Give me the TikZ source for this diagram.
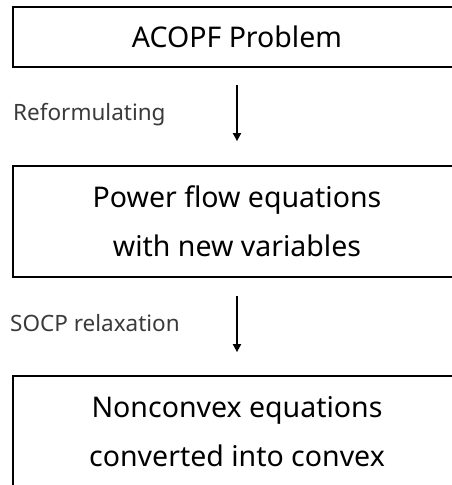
\documentclass[tikz,border=0pt]{standalone}
\usepackage{fontspec}
\setmainfont{Noto Sans}
\usetikzlibrary{arrows.meta}
\definecolor{labelgray}{HTML}{3A3A3A}
\begin{document}
\begin{tikzpicture}[x=1pt,y=1pt,
  stepbox/.style={draw=black, line width=1.8pt, minimum width=448pt, inner sep=0pt,
    align=center, font=\fontsize{28.5}{49}\selectfont},
  flow/.style={line width=1.8pt, -{Triangle[width=8pt,length=8pt]}},
  steplabel/.style={anchor=base west, inner sep=0pt, text=labelgray, font=\fontsize{22.5}{27}\selectfont}]
\useasboundingbox (0,0) rectangle (451,-485);
\node[stepbox, minimum height=60pt] (b1) at (237,-37) {ACOPF Problem};
\node[stepbox, minimum height=111pt] (b2) at (237,-221.5) {Power flow equations\\with new variables};
\node[stepbox, minimum height=111pt] (b3) at (237,-431.5) {Nonconvex equations\\converted into convex};
\draw[flow, shorten <=17pt, shorten >=24pt] (b1.south) -- (b2.north);
\draw[flow, shorten <=18pt, shorten >=23pt] (b2.south) -- (b3.north);
\node[steplabel] (l1) at (13,-120) {Reformulating};
\node[steplabel] (l2) at (10,-331) {SOCP relaxation};
\end{tikzpicture}
\end{document}
